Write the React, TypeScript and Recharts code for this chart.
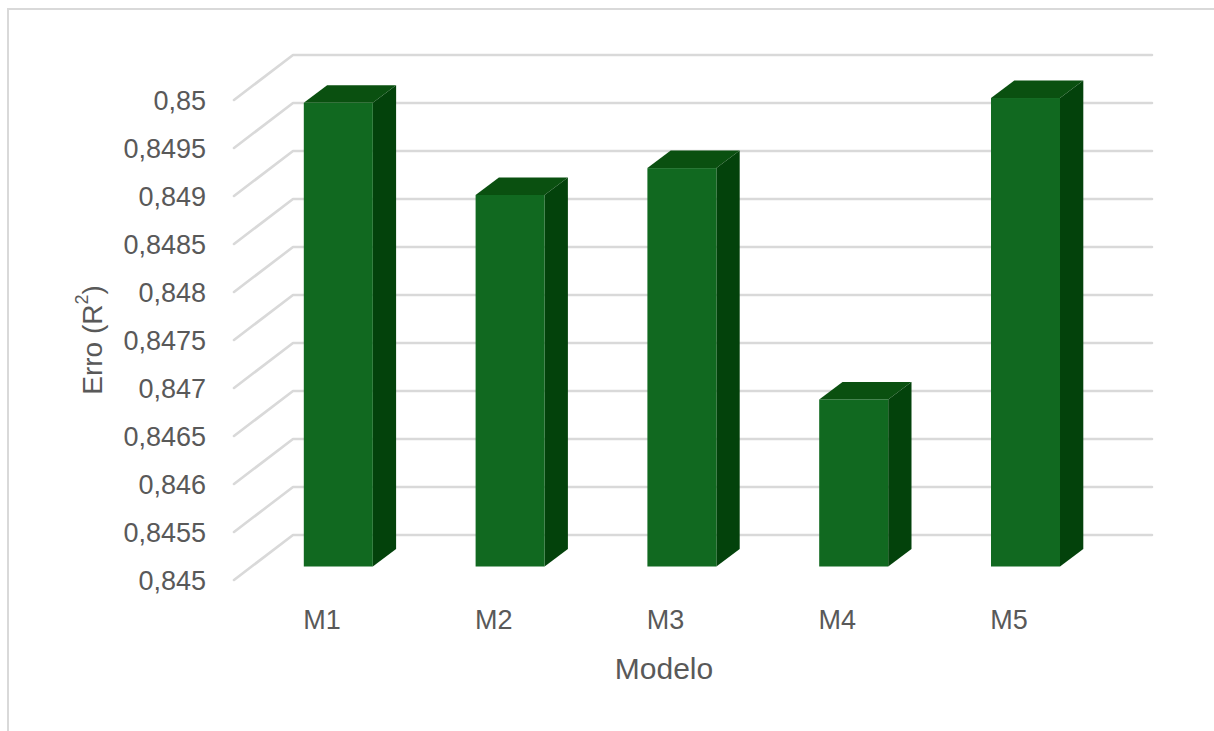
import React from "react";
import { BarChart, Bar, XAxis, YAxis, CartesianGrid, Label } from "recharts";

const models = ["M1", "M2", "M3", "M4", "M5"];
const r2Values = [0.84983, 0.84887, 0.84915, 0.84674, 0.84988];
const yTicks = [
  0.845, 0.8455, 0.846, 0.8465, 0.847, 0.8475, 0.848, 0.8485, 0.849, 0.8495,
  0.85,
];

const chartData = models.map((model, i) => ({ model, r2: r2Values[i] }));

const FONT = "'Liberation Sans', sans-serif";
const TEXT_COLOR = "#595959";
const GRID_COLOR = "#d9d9d9";

// Depth of the floor, from the axis plane to the back wall
const WALL_DX = 59;
const WALL_DY = 45;
// Where the bars stand on the floor, and how deep they are
const BAR_DX = 18.8;
const BAR_DY = 13.5;
const DEPTH_DX = 23.3;
const DEPTH_DY = 17.5;

// A grid line runs up the side wall and then across the back wall
const renderGridLine = (props: any) => {
  const { x1, x2, y1, index } = props;
  const d = `M${x1},${y1}L${x1 + WALL_DX},${y1 - WALL_DY}L${x2 + WALL_DX},${y1 - WALL_DY}`;
  return (
    <path
      key={index}
      d={d}
      fill="none"
      stroke={GRID_COLOR}
      strokeWidth={2.6}
      strokeLinecap="round"
      strokeLinejoin="round"
    />
  );
};

const Bar3D = (props: any) => {
  const { x, y, width, height } = props;
  const left = x + BAR_DX;
  const right = left + width;
  const top = y - BAR_DY;
  const bottom = top + height;
  return (
    <g>
      <path
        d={`M${left},${top}L${left + DEPTH_DX},${top - DEPTH_DY}L${right + DEPTH_DX},${top - DEPTH_DY}L${right},${top}Z`}
        fill="#0a5010"
      />
      <path
        d={`M${right},${top}L${right + DEPTH_DX},${top - DEPTH_DY}L${right + DEPTH_DX},${bottom - DEPTH_DY}L${right},${bottom}Z`}
        fill="#03420b"
      />
      <rect x={left} y={top} width={width} height={height} fill="#116920" />
    </g>
  );
};

const YTitle = () => (
  <text
    x={92}
    y={340}
    transform="rotate(-90 92 340)"
    textAnchor="middle"
    dominantBaseline="central"
    fontFamily={FONT}
    fontSize={28}
    fill={TEXT_COLOR}
  >
    Erro (R
    <tspan dy={-10} fontSize={18}>
      2
    </tspan>
    <tspan dy={10}>)</tspan>
  </text>
);

export default function App() {
  return (
    <div
      style={{
        position: "absolute",
        left: 0,
        top: 0,
        width: 1214,
        height: 731,
        overflow: "hidden",
        background: "#fff",
      }}
    >
      <div
        style={{
          position: "absolute",
          left: 7,
          top: 8,
          width: 1207,
          height: 723,
          boxSizing: "border-box",
          borderTop: `2px solid ${GRID_COLOR}`,
          borderLeft: `2px solid ${GRID_COLOR}`,
        }}
      />
      <div style={{ position: "absolute", left: 0, top: 0 }}>
        <BarChart
          width={1214}
          height={731}
          data={chartData}
          barSize={69}
          margin={{ top: 100, right: 121, bottom: 51, left: 0 }}
        >
          <CartesianGrid vertical={false} horizontal={renderGridLine} />
          <XAxis
            dataKey="model"
            height={100}
            axisLine={false}
            tickLine={false}
            tickSize={0}
            tickMargin={30}
            tick={{ fontFamily: FONT, fontSize: 27, fill: TEXT_COLOR, dx: 2 }}
          >
            <Label
              content={() => (
                <text
                  x={664}
                  y={668}
                  textAnchor="middle"
                  dominantBaseline="central"
                  fontFamily={FONT}
                  fontSize={30}
                  fill={TEXT_COLOR}
                >
                  Modelo
                </text>
              )}
            />
          </XAxis>
          <YAxis
            width={234}
            domain={[0.845, 0.85]}
            ticks={yTicks}
            axisLine={false}
            tickLine={false}
            tickSize={0}
            tickMargin={28}
            interval={0}
            tickFormatter={(v: number) => String(v).replace(".", ",")}
            tick={{ fontFamily: FONT, fontSize: 27, fill: TEXT_COLOR }}
          >
            <Label content={() => <YTitle />} />
          </YAxis>
          <Bar dataKey="r2" isAnimationActive={false} shape={<Bar3D />} />
        </BarChart>
      </div>
    </div>
  );
}
